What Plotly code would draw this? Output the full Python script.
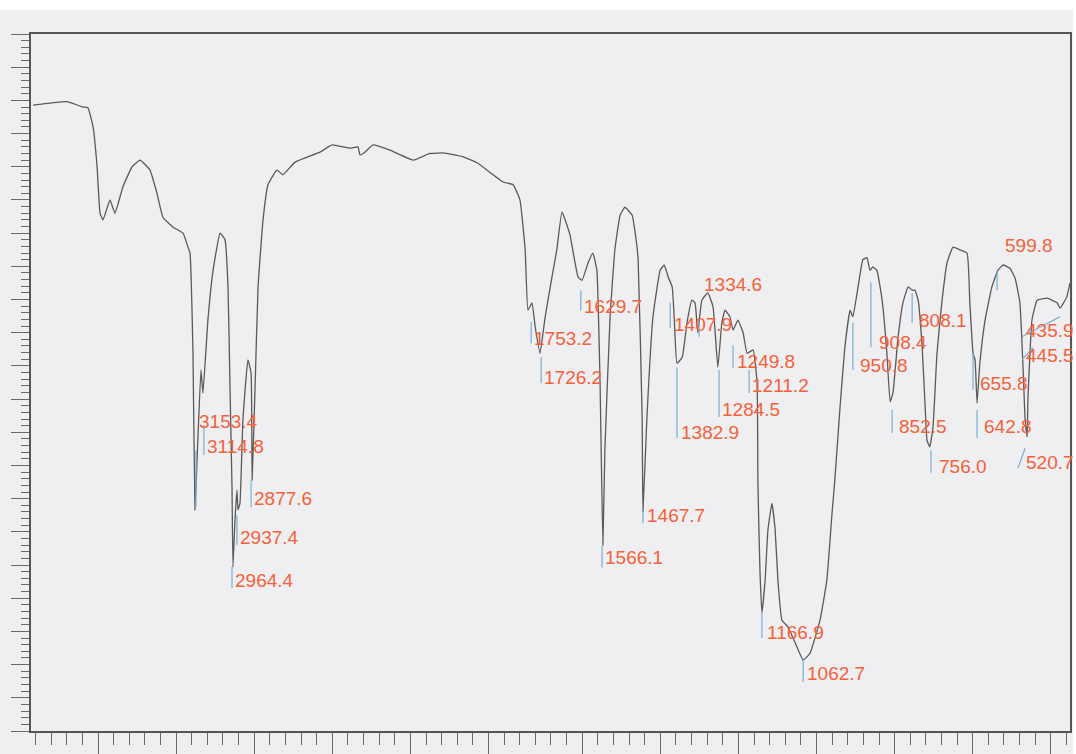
import plotly.graph_objects as go

# ---------------- data ----------------
# wavenumber (cm-1) and transmittance (%T, arbitrary chart units 0-105)
wavenumber = [
    3990, 3904, 3819, 3739, 3714, 3688, 3668, 3653, 3638, 3603,
    3578, 3538, 3492, 3452, 3402, 3367, 3337, 3286, 3236, 3211,
    3201, 3186, 3176, 3161, 3146, 3136, 3111, 3085, 3050, 3025,
    3010, 3000, 2990, 2985, 2975, 2965, 2960, 2950, 2935, 2910,
    2894, 2889, 2874, 2859, 2834, 2809, 2764, 2734, 2673, 2548,
    2487, 2397, 2357, 2347, 2322, 2281, 2196, 2080, 2000,
    1965, 1915, 1880, 1815, 1790, 1773, 1760, 1753, 1743, 1735,
    1723, 1710, 1693, 1681, 1668, 1648, 1628, 1618, 1603, 1591,
    1581, 1573, 1566, 1561, 1548, 1536, 1523, 1511, 1493, 1483,
    1478, 1468, 1466, 1456, 1441, 1423, 1413, 1403, 1393, 1388,
    1381, 1368, 1356, 1344, 1336, 1329, 1319, 1304, 1291, 1279,
    1269, 1261, 1249, 1241, 1229, 1216, 1206, 1191, 1181, 1179,
    1174, 1169, 1161, 1154, 1144, 1136, 1129, 1119, 1104, 1086,
    1066, 1049, 1024, 1007, 994, 987, 974, 962, 949, 942,
    929, 917, 907, 899, 892, 882, 869, 857, 849, 842,
    829, 817, 804, 794, 787, 779, 769, 762, 757, 750,
    742, 732, 720, 707, 692, 675, 657, 650, 642, 637,
    632, 625, 612, 595, 580, 567, 550, 537, 525, 517,
    512, 507, 505, 495, 482, 457, 432, 425, 408, 400,
]
transmittance = [
    94.3, 94.6, 94.8, 94.0, 93.9, 91.0, 85.0, 78.0, 77.0, 80.0,
    78.0, 82.0, 85.0, 86.0, 84.5, 81.0, 77.4, 75.9, 75.0, 72.9,
    72.0, 56.9, 33.3, 44.3, 54.4, 50.9, 61.9, 69.4, 75.0, 74.0,
    66.9, 51.8, 36.8, 24.7, 31.8, 36.3, 33.3, 34.3, 46.9, 55.9,
    53.9, 37.8, 51.8, 66.9, 77.0, 82.3, 84.5, 83.8, 85.7, 87.2,
    88.3, 87.8, 88.0, 86.8, 87.2, 88.3, 87.5, 86.0, 87.0,
    87.1, 86.5, 85.6, 82.7, 82.3, 80.0, 72.5, 63.4, 64.5, 60.9,
    56.9, 62.4, 68.4, 72.5, 78.2, 74.7, 68.4, 67.9, 70.5, 72.0,
    69.4, 52.4, 28.0, 42.3, 62.4, 72.5, 77.7, 78.9, 77.7, 74.0,
    71.0, 47.3, 33.0, 47.3, 62.4, 69.4, 70.2, 68.4, 66.9, 62.4,
    55.4, 56.3, 61.5, 64.9, 64.5, 60.0, 64.9, 66.0, 63.9, 54.8,
    61.5, 63.4, 62.4, 60.4, 61.9, 60.0, 56.9, 57.4, 52.4, 37.4,
    24.3, 17.8, 22.7, 30.3, 34.3, 30.3, 22.7, 16.7, 15.7, 13.3,
    10.7, 11.7, 16.7, 22.7, 32.8, 37.8, 48.8, 57.8, 63.4, 62.4,
    66.9, 71.0, 71.3, 69.4, 69.9, 69.4, 64.9, 56.9, 49.6, 50.9,
    59.4, 64.5, 66.9, 66.4, 66.4, 64.9, 57.8, 49.4, 43.8, 42.8,
    45.8, 56.9, 64.5, 70.5, 72.9, 72.5, 72.0, 64.5, 56.9, 55.9,
    49.4, 55.4, 61.9, 66.9, 69.4, 70.2, 69.7, 68.2, 64.5, 54.4,
    46.9, 44.3, 49.9, 61.9, 64.9, 65.2, 64.5, 63.7, 65.4, 67.5,
]

# peak labels as printed on the chart
peak_labels = ["3153.4", "3114.8", "2877.6", "2937.4", "2964.4",
               "1753.2", "1726.2", "1629.7", "1566.1", "1467.7",
               "1407.9", "1334.6", "1382.9", "1284.5", "1249.8",
               "1211.2", "1166.9", "1062.7", "908.4", "950.8",
               "808.1", "852.5", "756.0", "599.8", "655.8",
               "642.8", "435.9", "445.5", "520.7"]
# where each label's text sits (left edge wavenumber, %T at text centre)
label_wn = [3166, 3126, 2889, 2960, 2985,
            1743, 1718, 1618, 1566, 1461,
            1393, 1319, 1376, 1274, 1236,
            1199, 1161, 1061, 882, 929,
            782, 832, 732, 567, 630,
            620, 516, 516, 514]
label_t = [46.7, 42.8, 35.0, 29.1, 22.7,
           59.2, 53.3, 64.0, 26.1, 32.4,
           61.3, 67.2, 45.0, 48.4, 55.6,
           52.0, 14.9, 8.7, 58.6, 55.1,
           61.9, 45.9, 39.8, 73.2, 52.4,
           45.8, 60.4, 56.6, 40.5]
# peak marker strokes (wn1, t1, wn2, t2)
marker_wn1 = [3171, 3131, 2990, 2965, 2894, 1745, 1720, 1621, 1568, 1466,
              1398, 1326, 1381, 1276, 1241, 1201, 1169, 1066, 942, 897,
              844, 794, 747, 582, 642, 632, 520, 520, 530]
marker_t1 = [42.3, 46.1, 24.7, 32.5, 37.8, 61.6, 56.3, 66.4, 28.0, 33.3,
             64.5, 61.6, 54.8, 54.4, 58.1, 54.4, 17.8, 10.7, 61.5, 67.6,
             48.4, 66.0, 42.3, 69.4, 56.9, 48.4, 59.4, 55.9, 39.6]
marker_wn2 = [3171, 3131, 2990, 2965, 2894, 1745, 1720, 1621, 1568, 1466,
              1398, 1326, 1381, 1276, 1241, 1201, 1169, 1066, 942, 897,
              844, 794, 747, 582, 642, 632, 425, 492, 512]
marker_t2 = [33.7, 41.6, 21.5, 28.0, 33.7, 58.4, 52.4, 63.4, 24.6, 31.3,
             60.7, 59.4, 44.1, 47.3, 54.7, 50.9, 14.0, 7.4, 54.4, 57.8,
             44.9, 61.5, 38.9, 66.4, 51.4, 44.1, 62.4, 57.8, 42.6]

BREAK = 2000  # chart paper changes scale at 2000 cm-1
SPLIT = 398 / 1039  # fraction of width used by 4000-2000 section

# chart-paper tick layout along the bottom (uniform paper divisions)
paper_step = 15.62
paper_minor = [67 + paper_step * k for k in range(-4, 63)]
paper_major_idx = [0, 5, 10, 15, 20, 25, 31, 36, 41, 46, 51, 56, 61]
paper_major = [67 + paper_step * k for k in paper_major_idx]

# ---------------- figure ----------------
fig = go.Figure()

up = [(w, t) for w, t in zip(wavenumber, transmittance) if w >= BREAK]
lo = [(w, t) for w, t in zip(wavenumber, transmittance) if w <= BREAK]
line_style = dict(color="#5a5a5a", width=1.3, shape="spline", smoothing=0.35)
fig.add_trace(go.Scatter(x=[p[0] for p in up], y=[p[1] for p in up],
                         xaxis="x", yaxis="y", mode="lines", line=line_style,
                         showlegend=False, hoverinfo="skip"))
fig.add_trace(go.Scatter(x=[p[0] for p in lo], y=[p[1] for p in lo],
                         xaxis="x2", yaxis="y", mode="lines", line=line_style,
                         showlegend=False, hoverinfo="skip"))

# marker strokes
for axis, cond in (("x", lambda w: w > BREAK), ("x2", lambda w: w <= BREAK)):
    xs, ys = [], []
    for w1, t1, w2, t2 in zip(marker_wn1, marker_t1, marker_wn2, marker_t2):
        if cond(w1):
            xs += [w1, w2, None]
            ys += [t1, t2, None]
    fig.add_trace(go.Scatter(x=xs, y=ys, xaxis=axis, yaxis="y", mode="lines",
                             line=dict(color="#78aed6", width=1.2),
                             showlegend=False, hoverinfo="skip"))

# frame / chart paper ticks
fig.add_trace(go.Scatter(x=[None], y=[None], xaxis="x3", yaxis="y3",
                         showlegend=False, hoverinfo="skip"))

for txt, w, t in zip(peak_labels, label_wn, label_t):
    fig.add_annotation(x=w, y=t, xref="x" if w > BREAK else "x2", yref="y",
                       text=txt, showarrow=False, xanchor="left",
                       yanchor="middle",
                       font=dict(family="Liberation Sans, Arial", size=19,
                                 color="#f4623a"))

frame_col = "#555555"
tick_col = "#6a6a6a"
fig.update_layout(
    width=1076, height=754,
    margin=dict(l=31, r=6, t=34, b=23, autoexpand=False),
    paper_bgcolor="#efeef1",
    plot_bgcolor="rgba(0,0,0,0)",
    showlegend=False,
    xaxis=dict(domain=[0, SPLIT], range=[4000, BREAK], visible=False,
               anchor="y", automargin=False),
    xaxis2=dict(domain=[SPLIT, 1], range=[BREAK, 400], visible=False,
                anchor="y", automargin=False),
    yaxis=dict(domain=[0, 1], range=[0, 105], visible=False, anchor="x",
               automargin=False),
    xaxis3=dict(domain=[0, 1], range=[0, 1039], anchor="y3", automargin=False,
                showline=True, mirror=True, linecolor=frame_col, linewidth=1.5,
                ticks="outside", ticklen=30, tickcolor=tick_col, tickwidth=1,
                tickmode="array", tickvals=paper_major,
                showticklabels=False, showgrid=False, zeroline=False,
                minor=dict(ticks="outside", ticklen=12, tickmode="array",
                           tickvals=paper_minor, tickcolor=tick_col,
                           tickwidth=1, showgrid=False)),
    yaxis3=dict(domain=[0, 1], range=[0, 105], anchor="x3", automargin=False,
                showline=True, mirror=True, linecolor=frame_col, linewidth=1.5,
                ticks="outside", ticklen=18, tickcolor=tick_col, tickwidth=1,
                dtick=5, showticklabels=False, showgrid=False, zeroline=False,
                minor=dict(ticks="outside", ticklen=8, dtick=1,
                           tickcolor=tick_col, tickwidth=1, showgrid=False)),
)

# white strip of the scanner bed above and right of the chart paper
fig.add_shape(type="rect", xref="paper", yref="paper",
              x0=-0.05, x1=1.05, y0=1 + 24 / 697, y1=1.08,
              fillcolor="white", line=dict(width=0), layer="below")
fig.add_shape(type="rect", xref="paper", yref="paper",
              x0=1 + 3 / 1039, x1=1.05, y0=-0.05, y1=1.08,
              fillcolor="white", line=dict(width=0), layer="below")

fig.write_html(
    "out.html",
    config={"displayModeBar": False},
    post_script="document.body.style.margin='0px';"
                "document.documentElement.style.overflow='hidden';",
)
